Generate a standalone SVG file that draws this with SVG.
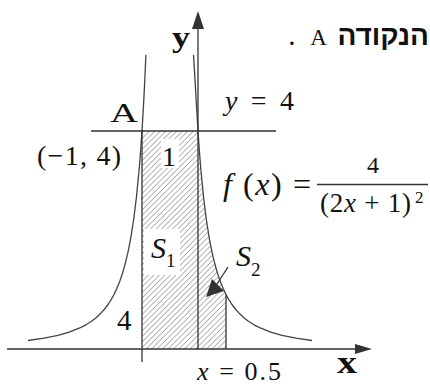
<svg xmlns="http://www.w3.org/2000/svg" width="430" height="385" viewBox="0 0 430 385">
<defs>
<style>
.ln{stroke:#333;stroke-width:1.3;fill:none}
.crv{stroke:#444;stroke-width:1.3;fill:none;stroke-linejoin:round}
.m{font-family:"Liberation Serif","Times New Roman",serif;fill:#111}
.i{font-style:italic}
.b{font-weight:bold}
.hd{fill:#333}
</style>
<pattern id="hatch" patternUnits="userSpaceOnUse" width="5.5" height="5.5">
<path d="M-1,1 L1,-1 M0,5.5 L5.5,0 M4.5,6.5 L6.5,4.5" stroke="#8a8a8a" stroke-width="0.9"/>
</pattern>
</defs>
<rect width="430" height="385" fill="#fff"/>

<g id="region">
<path d="M142,131 L198,131 L199.4,151.2 L200.8,168.8 L203.6,197.6 L206.4,220 L209.2,237.8 L212,252.1 L214.8,263.8 L217.6,273.6 L220.4,281.7 L223.2,288.6 L226,294.5 L226,349 L142,349 Z" fill="url(#hatch)"/>
<rect x="161" y="139" width="18" height="29" fill="#fff"/>
<rect x="144" y="229" width="36" height="46" fill="#fff"/>
</g>

<g id="curve">
<path class="crv" d="M193.5,54.9 L195,79.9 L196.6,107.4 L198,131 L199.4,151.2 L200.8,168.8 L203.6,197.6 L206.4,220 L209.2,237.8 L212,252.1 L214.8,263.8 L217.6,273.6 L220.4,281.7 L223.2,288.6 L226,294.5 L228.8,299.6 L231.6,304 L235.8,309.5 L240,314.1 L244.2,318 L248.4,321.2 L254,324.8 L259.6,327.7 L270.8,332.2 L282,335.4 L296,338.2 L312,340.5"/>
<path class="crv" d="M145.9,54.9 L144.8,79.9 L143.4,107.4 L142,131 L140.6,151.2 L139.2,168.8 L136.4,197.6 L133.6,220 L130.8,237.8 L128,252.1 L125.2,263.8 L122.4,273.6 L119.6,281.7 L116.8,288.6 L114,294.5 L111.2,299.6 L108.4,304 L104.2,309.5 L100,314.1 L95.8,318 L91.6,321.2 L86,324.8 L80.4,327.7 L69.2,332.2 L58,335.4 L44,338.2 L28,340.5"/>
</g>

<g id="connectors">
<path class="ln" d="M7,349 H360"/>
<polygon class="hd" points="372,349 355,344 355,354"/>
<path class="ln" d="M198,349 V26"/>
<polygon class="hd" points="198,11 192,29 204,29"/>
<path class="ln" d="M91,131 H276"/>
<path class="ln" d="M142,131 V362"/>
<path class="ln" d="M226,294.5 V349"/>
<path class="ln" d="M228,267 L217,284"/>
<polygon class="hd" points="206,297 212,279 224,291"/>
<path class="ln" d="M317,184.5 H428"/>
</g>

<g id="labels">
<text class="m" x="429" y="45" direction="rtl" text-anchor="start" font-size="21"><tspan class="b" font-size="28" font-family="'Liberation Sans','DejaVu Sans',sans-serif">הנקודה</tspan>&#160;&#160;<tspan font-size="23">A</tspan>&#160;&#160;&#160;<tspan class="b">.</tspan></text>
<text class="m b" x="172" y="47" font-size="30" textLength="18" lengthAdjust="spacingAndGlyphs" fill="#222">y</text>
<text class="m" x="110" y="122" font-size="27" textLength="28" lengthAdjust="spacingAndGlyphs">A</text>
<text class="m" x="225" y="110" font-size="28" textLength="69"><tspan class="i">y</tspan> = 4</text>
<text class="m" x="37" y="165" font-size="28" textLength="84">(−1, 4)</text>
<text class="m" x="162" y="166" font-size="28">1</text>
<text class="m" x="223" y="195" font-size="32" textLength="88"><tspan class="i">f</tspan> (<tspan class="i">x</tspan>) =</text>
<text class="m" x="367" y="173" font-size="24">4</text>
<text class="m" x="320" y="212" font-size="27" textLength="91">(2<tspan class="i">x</tspan> + 1)</text>
<text class="m" x="415" y="203" font-size="17">2</text>
<text class="m" x="151" y="258" font-size="30"><tspan class="i">S</tspan><tspan font-size="19" dy="9">1</tspan></text>
<text class="m" x="236" y="266" font-size="30"><tspan class="i">S</tspan><tspan font-size="19" dy="10">2</tspan></text>
<text class="m" x="117" y="330" font-size="29">4</text>
<text class="m" x="197" y="380" font-size="26" textLength="84"><tspan class="i">x</tspan> = 0.5</text>
<text class="m b" x="337" y="373" font-size="32" textLength="20" lengthAdjust="spacingAndGlyphs" fill="#222">x</text>
</g>
</svg>
